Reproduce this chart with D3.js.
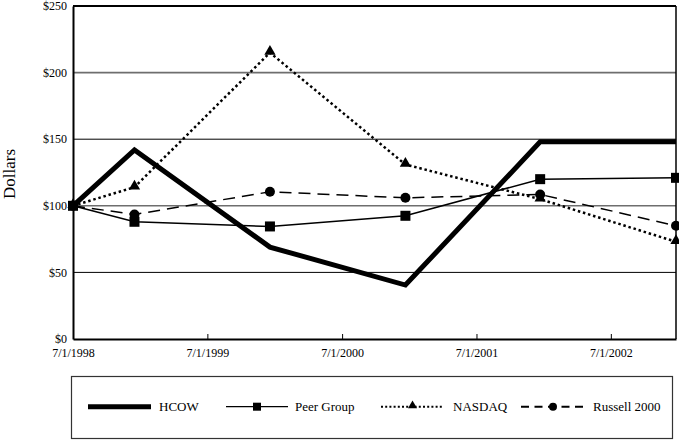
<!DOCTYPE html>
<html>
<head>
<meta charset="utf-8">
<script src="https://cdn.jsdelivr.net/npm/d3@7"></script>
<style>
  html, body { margin: 0; padding: 0; background: #fff; }
  svg { display: block; }
  svg text { font-family: "Liberation Serif", "Times New Roman", "DejaVu Serif", serif !important; fill: #000; }
</style>
</head>
<body>
<svg id="chart" width="679" height="440"></svg>
<script>
// ---- data ----
const dates = ["1998-07-01", "1998-12-15", "1999-12-18", "2000-12-20", "2001-12-21", "2002-12-25"];
const hcow = [100, 142, 69, 40.5, 148, 148];
const peerGroup = [100, 88, 84.5, 92.5, 120, 121];
const nasdaq = [100, 114, 215, 131, 105, 73];
const russell2000 = [100, 93.5, 110.5, 106, 108.5, 85];
const yTicks = [0, 50, 100, 150, 200, 250];
const xTickDates = ["1998-07-01", "1999-07-01", "2000-07-01", "2001-07-01", "2002-07-01"];
const xTickLabels = ["7/1/1998", "7/1/1999", "7/1/2000", "7/1/2001", "7/1/2002"];
const seriesNames = ["HCOW", "Peer Group", "NASDAQ", "Russell 2000"];

const parse = d3.timeParse("%Y-%m-%d");
const svg = d3.select("#chart");
const L = 73, R = 676, T = 6, B = 339;
const FONT = '"Liberation Serif", "Times New Roman", serif';

const x = d3.scaleTime()
  .domain([parse(dates[0]), parse(dates[dates.length - 1])])
  .range([L, R]);
const y = d3.scaleLinear().domain([0, 250]).range([B, T]);

// gridlines
const grid = svg.append("g");
yTicks.filter(v => v > 0 && v < 250).forEach(v => {
  const gray = (v === 100 || v === 200);
  grid.append("line")
    .attr("x1", L).attr("x2", R)
    .attr("y1", y(v)).attr("y2", y(v))
    .attr("stroke", gray ? "#6e6e6e" : "#000")
    .attr("stroke-width", gray ? 1.6 : 1);
});
// frame top & right
svg.append("line").attr("x1", L).attr("x2", R).attr("y1", y(250)).attr("y2", y(250))
  .attr("stroke", "#000").attr("stroke-width", 2);
svg.append("line").attr("x1", R).attr("x2", R).attr("y1", T).attr("y2", B)
  .attr("stroke", "#000").attr("stroke-width", 1.5);

// y axis
const yAxis = d3.axisLeft(y).tickValues(yTicks).tickSize(0).tickPadding(6)
  .tickFormat(d => "$" + d);
const gy = svg.append("g").attr("transform", `translate(${L},0)`).call(yAxis)
  .attr("font-family", FONT).attr("font-size", 12);
gy.select(".domain").attr("stroke", "#000").attr("stroke-width", 2);
gy.selectAll("text").attr("dy", "0.3em");

// x axis
const xAxis = d3.axisBottom(x).tickValues(xTickDates.map(parse)).tickSizeInner(-5).tickSizeOuter(0)
  .tickPadding(9).tickFormat((d, i) => xTickLabels[i]);
const gx = svg.append("g").attr("transform", `translate(0,${B})`).call(xAxis)
  .attr("font-family", FONT).attr("font-size", 12);
gx.select(".domain").attr("stroke", "#000").attr("stroke-width", 2);
gx.selectAll(".tick line").attr("stroke", "#000").attr("stroke-width", 1);

// y title
svg.append("text")
  .attr("transform", `translate(15,174) rotate(-90)`)
  .attr("text-anchor", "middle")
  .attr("font-family", FONT)
  .attr("font-size", 17)
  .text("Dollars");

const pts = arr => arr.map((v, i) => [x(parse(dates[i])), y(v)]);
const line = d3.line();

// series
const styles = [
  { data: hcow, width: 5, dash: null, marker: null },
  { data: peerGroup, width: 1.5, dash: null, marker: "square" },
  { data: nasdaq, width: 2.5, dash: "2.5,2.8", marker: "triangle" },
  { data: russell2000, width: 1.5, dash: "12,7", marker: "circle" }
];

function drawMarker(g, type, cx, cy, s) {
  if (type === "square") {
    g.append("rect").attr("x", cx - s / 2).attr("y", cy - s / 2).attr("width", s).attr("height", s).attr("fill", "#000");
  } else if (type === "triangle") {
    const sym = d3.symbol().type(d3.symbolTriangle).size(s * s * 0.55);
    g.append("path").attr("d", sym()).attr("transform", `translate(${cx},${cy - 1})`).attr("fill", "#000");
  } else if (type === "circle") {
    g.append("circle").attr("cx", cx).attr("cy", cy).attr("r", s / 2).attr("fill", "#000");
  }
}

const order = [1, 3, 2, 0];
order.forEach(k => {
  const s = styles[k];
  const g = svg.append("g");
  g.append("path").attr("d", line(pts(s.data)))
    .attr("fill", "none").attr("stroke", "#000")
    .attr("stroke-width", s.width)
    .attr("stroke-dasharray", s.dash)
    .attr("stroke-linejoin", "miter");
  if (s.marker) {
    pts(s.data).forEach(p => drawMarker(g, s.marker, p[0], p[1], 10));
  }
});

// legend
const lg = svg.append("g");
lg.append("rect").attr("x", 71.5).attr("y", 376.5).attr("width", 601).attr("height", 62)
  .attr("fill", "none").attr("stroke", "#333").attr("stroke-width", 1.2);
const ly = 406.7;
const items = [
  { x1: 88, x2: 151, tx: 159, width: 5, dash: null, marker: null },
  { x1: 226, x2: 288, tx: 295, width: 1.3, dash: null, marker: "square" },
  { x1: 381, x2: 444, tx: 453, width: 2, dash: "2,2.2", marker: "triangle" },
  { x1: 521, x2: 585, tx: 593, width: 2, dash: "8,5.5", marker: "circle" }
];
items.forEach((it, i) => {
  lg.append("line").attr("x1", it.x1).attr("x2", it.x2).attr("y1", ly).attr("y2", ly)
    .attr("stroke", "#000").attr("stroke-width", it.width).attr("stroke-dasharray", it.dash);
  if (it.marker) drawMarker(lg, it.marker, (it.x1 + it.x2) / 2, ly, 8);
  lg.append("text").attr("x", it.tx).attr("y", ly + 4.5)
    .attr("font-family", FONT).attr("font-size", 13).text(seriesNames[i]);
});
</script>
</body>
</html>
